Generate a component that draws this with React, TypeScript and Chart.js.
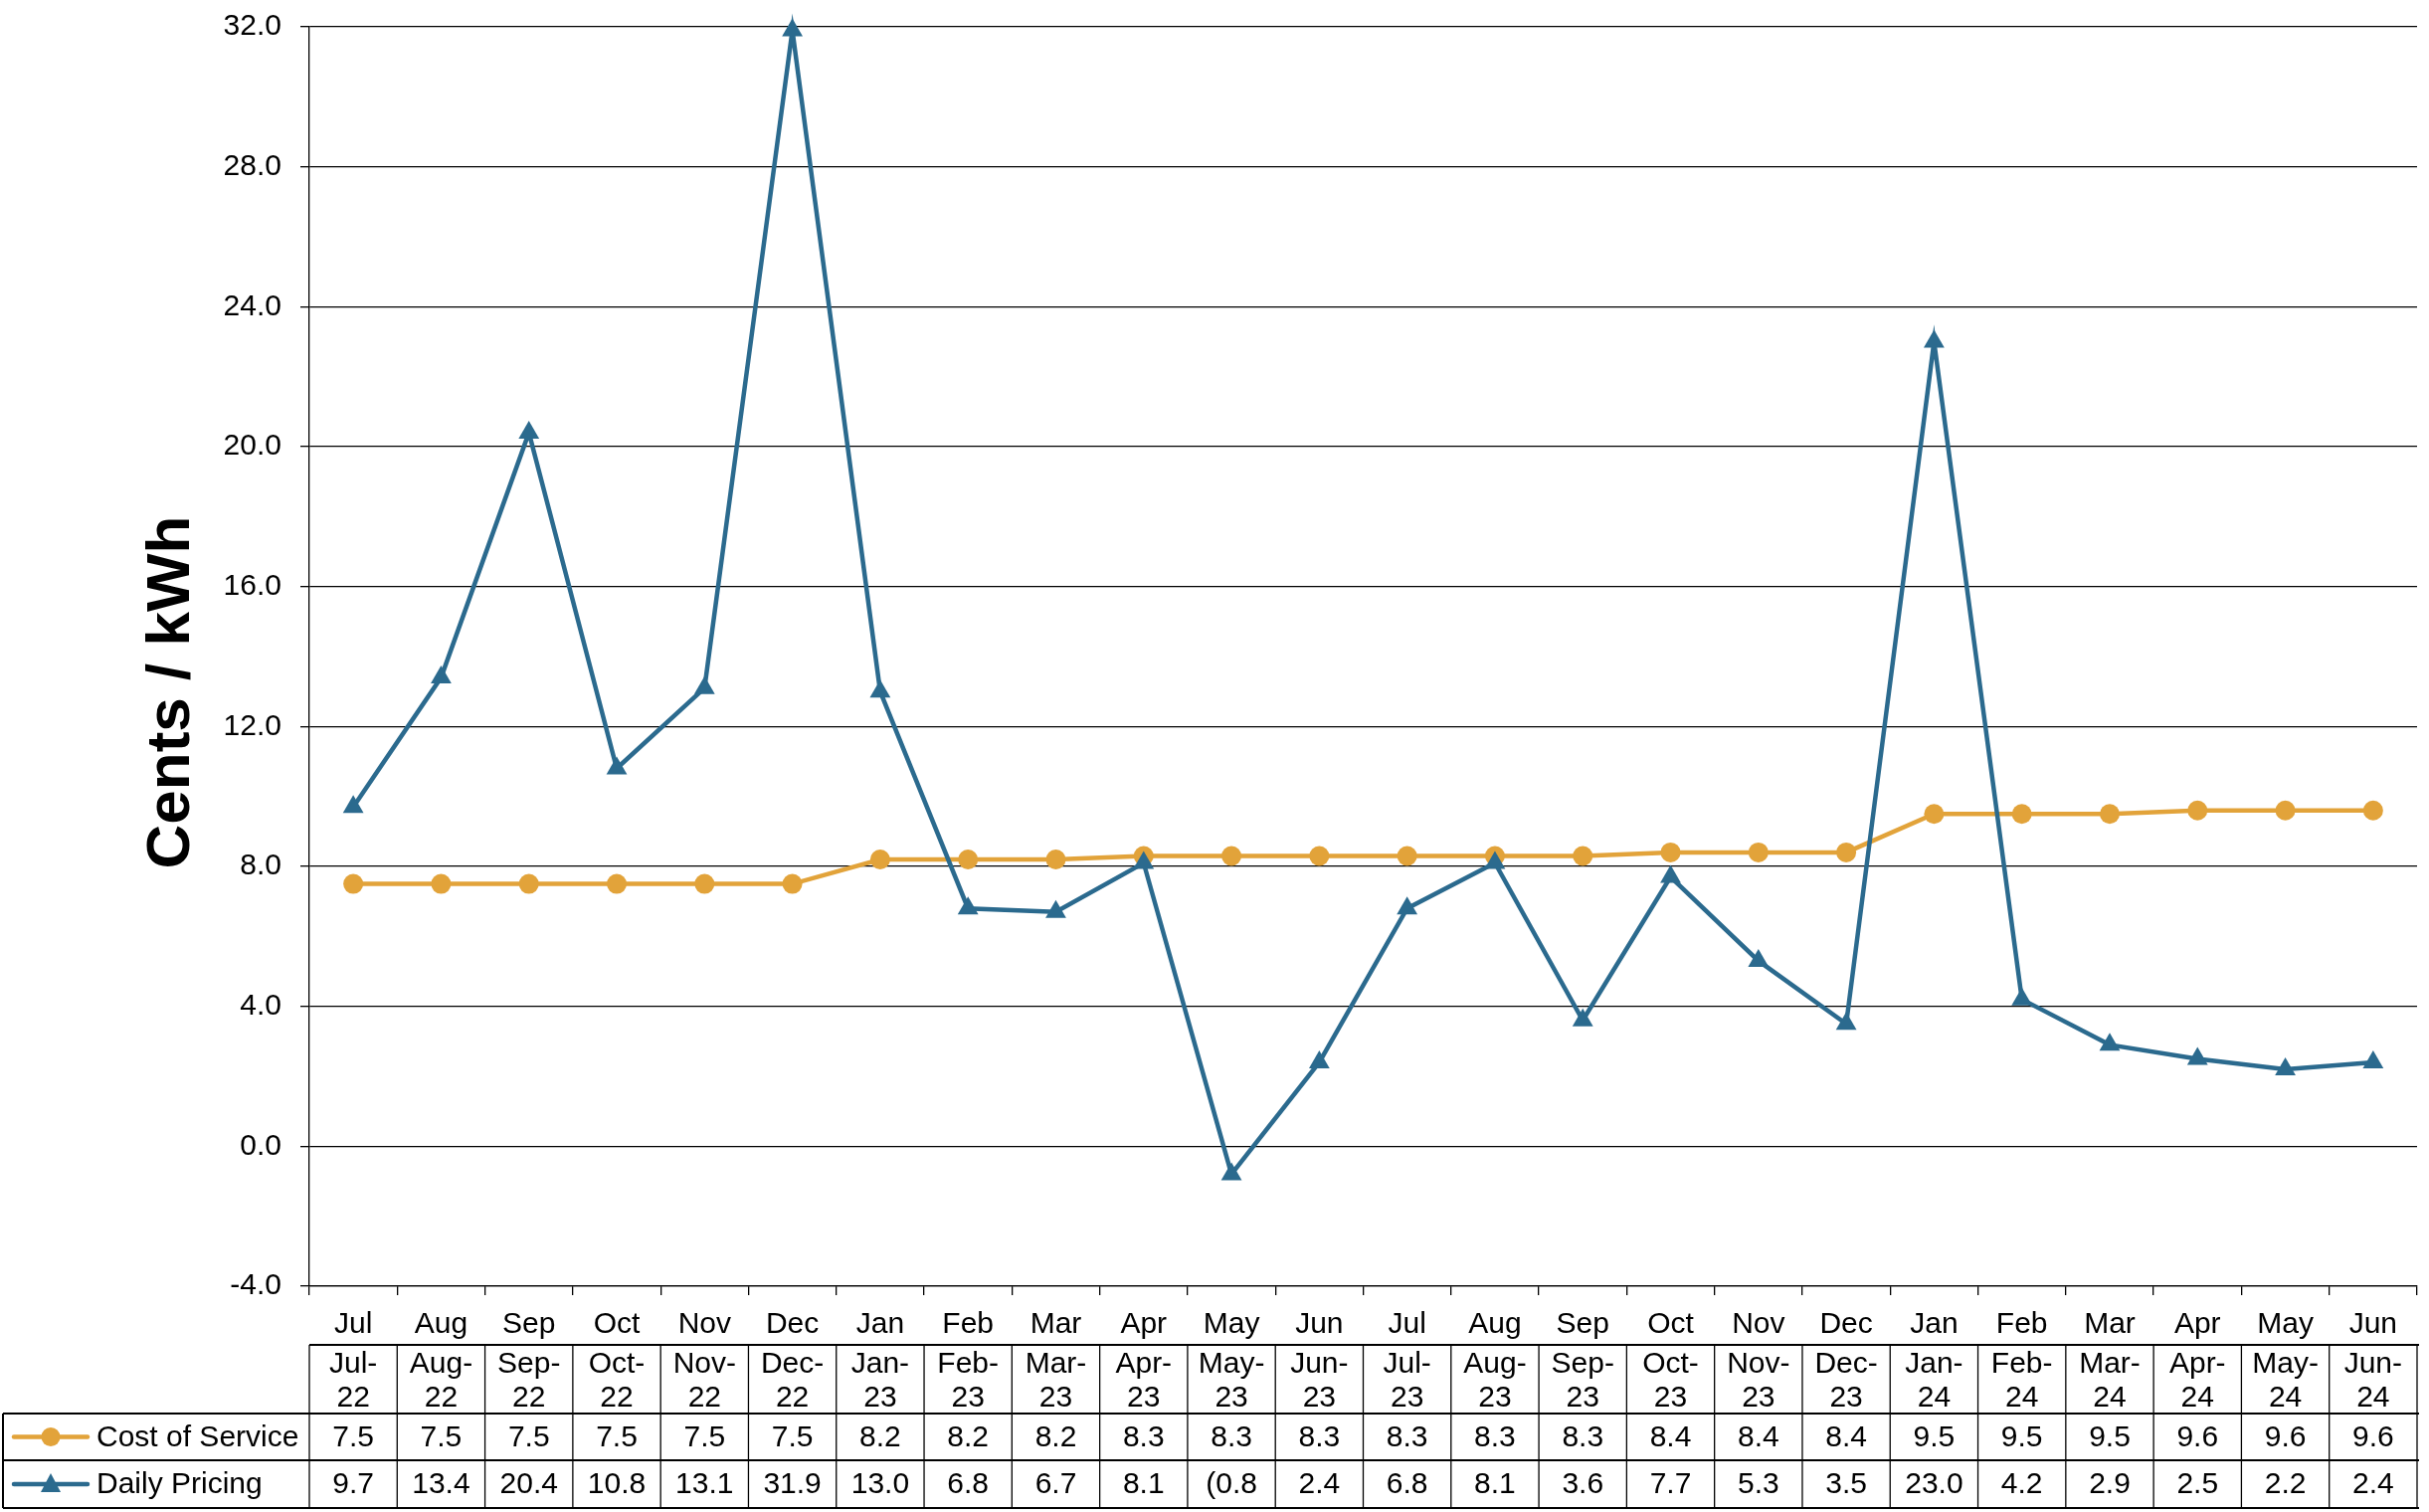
import { useEffect, useRef } from 'react';
import { Chart, registerables } from 'chart.js';

Chart.register(...registerables);

const months = ['Jul', 'Aug', 'Sep', 'Oct', 'Nov', 'Dec', 'Jan', 'Feb', 'Mar', 'Apr', 'May', 'Jun', 'Jul', 'Aug', 'Sep', 'Oct', 'Nov', 'Dec', 'Jan', 'Feb', 'Mar', 'Apr', 'May', 'Jun'];
const periods = ['Jul-22', 'Aug-22', 'Sep-22', 'Oct-22', 'Nov-22', 'Dec-22', 'Jan-23', 'Feb-23', 'Mar-23', 'Apr-23', 'May-23', 'Jun-23', 'Jul-23', 'Aug-23', 'Sep-23', 'Oct-23', 'Nov-23', 'Dec-23', 'Jan-24', 'Feb-24', 'Mar-24', 'Apr-24', 'May-24', 'Jun-24'];
const costOfService = [7.5, 7.5, 7.5, 7.5, 7.5, 7.5, 8.2, 8.2, 8.2, 8.3, 8.3, 8.3, 8.3, 8.3, 8.3, 8.4, 8.4, 8.4, 9.5, 9.5, 9.5, 9.6, 9.6, 9.6];
const dailyPricing = [9.7, 13.4, 20.4, 10.8, 13.1, 31.9, 13.0, 6.8, 6.7, 8.1, -0.8, 2.4, 6.8, 8.1, 3.6, 7.7, 5.3, 3.5, 23.0, 4.2, 2.9, 2.5, 2.2, 2.4];
const seriesNames = ['Cost of Service', 'Daily Pricing'];
const yAxisTitle = 'Cents / kWh';
const yMin = -4;
const yMax = 32;
const yStep = 4;

const ORANGE = '#E2A33A';
const BLUE = '#2B6A8E';
const FONT = '"Liberation Sans", Arial, Helvetica, sans-serif';
const FS = 30;

const fmt = (v: number) => (v < 0 ? '(' + Math.abs(v).toFixed(1) : v.toFixed(1));

const tablePlugin = {
  id: 'dataTable',
  afterDraw(chart: any) {
    const ctx = chart.ctx as CanvasRenderingContext2D;
    const { left, right, bottom, top } = chart.chartArea;
    const n = months.length;
    const w = (right - left) / n;
    const tTop = bottom + 59;
    const r1 = bottom + 128;
    const r2 = bottom + 175;
    const tBot = bottom + 223;
    const legLeft = 3;

    ctx.save();
    ctx.strokeStyle = '#000';
    ctx.lineWidth = 2;
    const hline = (y: number, x0: number) => {
      ctx.beginPath();
      ctx.moveTo(x0, y);
      ctx.lineTo(right + 2, y);
      ctx.stroke();
    };
    hline(tTop, left);
    hline(r1, legLeft);
    hline(r2, legLeft);
    hline(tBot, legLeft);
    ctx.lineWidth = 1.3;
    for (let i = 0; i <= n; i++) {
      const x = left + i * w;
      ctx.beginPath();
      ctx.moveTo(x, tTop);
      ctx.lineTo(x, tBot);
      ctx.stroke();
    }
    ctx.lineWidth = 2;
    ctx.beginPath();
    ctx.moveTo(legLeft, r1);
    ctx.lineTo(legLeft, tBot);
    ctx.stroke();

    ctx.fillStyle = '#000';
    ctx.font = `${FS}px ${FONT}`;
    ctx.textAlign = 'center';
    ctx.textBaseline = 'middle';
    const c1 = (r1 + r2) / 2;
    const c2 = (r2 + tBot) / 2;
    for (let i = 0; i < n; i++) {
      const cx = chart.scales.x.getPixelForValue(i);
      const parts = periods[i].split('-');
      ctx.fillText(parts[0] + '-', cx, tTop + 20);
      ctx.fillText(parts[1], cx, tTop + 54);
      ctx.fillText(fmt(costOfService[i]), cx, c1 + 1);
      ctx.fillText(fmt(dailyPricing[i]), cx, c2 + 1);
    }

    ctx.textAlign = 'left';
    ctx.fillText(seriesNames[0], 97, c1 + 1);
    ctx.fillText(seriesNames[1], 97, c2 + 1);
    ctx.lineWidth = 4.5;
    ctx.lineCap = 'round';
    ctx.strokeStyle = ORANGE;
    ctx.beginPath();
    ctx.moveTo(14, c1);
    ctx.lineTo(88, c1);
    ctx.stroke();
    ctx.fillStyle = ORANGE;
    ctx.beginPath();
    ctx.arc(51, c1, 9.5, 0, Math.PI * 2);
    ctx.fill();
    ctx.strokeStyle = BLUE;
    ctx.beginPath();
    ctx.moveTo(14, c2);
    ctx.lineTo(88, c2);
    ctx.stroke();
    ctx.fillStyle = BLUE;
    ctx.beginPath();
    ctx.moveTo(51, c2 - 11);
    ctx.lineTo(61, c2 + 8);
    ctx.lineTo(41, c2 + 8);
    ctx.closePath();
    ctx.fill();

    ctx.fillStyle = '#000';
    ctx.font = `bold 62px ${FONT}`;
    ctx.textAlign = 'center';
    ctx.textBaseline = 'alphabetic';
    ctx.translate(190, (top + bottom) / 2 + 36);
    ctx.rotate(-Math.PI / 2);
    ctx.fillText(yAxisTitle, 0, 0);
    ctx.restore();
  },
};

export default function App() {
  const ref = useRef<HTMLCanvasElement | null>(null);
  useEffect(() => {
    if (!ref.current) return;
    const chart = new Chart(ref.current, {
      type: 'line',
      data: {
        labels: months,
        datasets: [
          {
            label: seriesNames[0],
            data: costOfService,
            borderColor: ORANGE,
            backgroundColor: ORANGE,
            borderWidth: 4.5,
            pointStyle: 'circle',
            pointRadius: 10,
            pointBorderWidth: 0,
            pointBackgroundColor: ORANGE,
            tension: 0,
            clip: false as any,
            order: 1,
          },
          {
            label: seriesNames[1],
            data: dailyPricing,
            borderColor: BLUE,
            backgroundColor: BLUE,
            borderWidth: 4.5,
            pointStyle: 'triangle',
            pointRadius: 12,
            pointBorderWidth: 0,
            pointBackgroundColor: BLUE,
            tension: 0,
            clip: false as any,
            order: 0,
          },
        ],
      },
      options: {
        animation: false,
        responsive: false,
        maintainAspectRatio: false,
        layout: { padding: { left: 0, right: 5, top: 27, bottom: 0 } },
        plugins: {
          legend: { display: false },
          tooltip: { enabled: false },
          title: { display: false },
        },
        scales: {
          x: {
            type: 'category',
            offset: true,
            grid: {
              offset: true,
              drawOnChartArea: false,
              drawTicks: true,
              tickLength: 9,
              color: '#000',
              lineWidth: 1.3,
            },
            border: { display: true, color: '#000', width: 1.3 },
            ticks: {
              color: '#000',
              font: { family: FONT, size: FS },
              padding: 12,
              maxRotation: 0,
              autoSkip: false,
            },
            afterFit: (s: any) => {
              s.height = 227;
              s.paddingLeft = 0;
              s.paddingRight = 0;
            },
          },
          y: {
            min: yMin,
            max: yMax,
            grid: {
              color: '#000',
              lineWidth: 1.3,
              drawTicks: true,
              tickLength: 9,
            },
            border: { display: true, color: '#000', width: 1.3 },
            ticks: {
              stepSize: yStep,
              color: '#000',
              font: { family: FONT, size: FS },
              padding: 19,
              callback: (v: any) => Number(v).toFixed(1),
            },
            afterFit: (s: any) => {
              s.width = 311;
              s.paddingTop = 0;
              s.paddingBottom = 0;
            },
          },
        },
      },
      plugins: [tablePlugin],
    });
    return () => chart.destroy();
  }, []);
  return (
    <div style={{ position: 'fixed', left: 0, top: 0, width: 2442, height: 1520, background: '#fff' }}>
      <canvas ref={ref} width={2442} height={1520} style={{ display: 'block', width: 2442, height: 1520 }} />
    </div>
  );
}
